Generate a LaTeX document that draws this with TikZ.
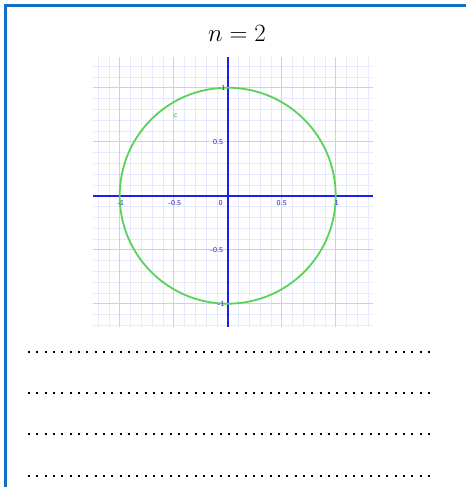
\documentclass[tikz,border=0pt]{standalone}
\usepackage{tikz}
\definecolor{framecol}{RGB}{16,112,196}
\definecolor{axiscol}{RGB}{30,30,240}
\definecolor{majgrid}{RGB}{204,204,255}
\definecolor{mingrid}{RGB}{232,232,255}
\definecolor{circcol}{RGB}{88,210,88}
\definecolor{labgreen}{RGB}{60,180,60}
\tikzset{
  ticklab/.style={font=\sffamily\fontsize{7.5}{8}\selectfont, text=axiscol, inner sep=0pt},
  dotline/.style={line width=2pt, dash pattern=on 2pt off 6.33pt},
}
\begin{document}
\begin{tikzpicture}[x=1pt,y=-1pt]
\useasboundingbox (0,0) rectangle (466,487);
% frame
\draw[framecol, line width=3pt] (5.5,487) -- (5.5,5.5) -- (466,5.5);
% title
\node (title) at (237,33) {\fontsize{23}{28}\selectfont $n = 2$};
% graph
\begin{scope}[shift={(227.7pt,-195.7pt)}, x=108pt, y=108pt]
  \draw[mingrid, line width=0.6pt, step=0.1] (-1.247,-1.216) grid (1.345,1.284);
  \draw[majgrid, line width=0.9pt, step=0.5] (-1.247,-1.216) grid (1.345,1.284);
  \draw[axiscol, line width=1.8pt] (-1.247,0) -- (1.345,0);
  \draw[axiscol, line width=1.8pt] (0,-1.216) -- (0,1.284);
  \draw[circcol, line width=1.8pt] (0,0) circle (1);
  \node[ticklab, anchor=north] (xm1) at (-0.99,-0.045) {-1};
  \node[ticklab, anchor=north] (xm05) at (-0.49,-0.045) {-0.5};
  \node[ticklab, anchor=north] (x0) at (-0.065,-0.045) {0};
  \node[ticklab, anchor=north] (x05) at (0.5,-0.045) {0.5};
  \node[ticklab, anchor=north] (x1) at (1.01,-0.045) {1};
  \node[ticklab, anchor=east] (y1) at (-0.02,1) {1};
  \node[ticklab, anchor=east] (y05) at (-0.04,0.5) {0.5};
  \node[ticklab, anchor=east] (ym05) at (-0.04,-0.5) {-0.5};
  \node[ticklab, anchor=east] (ym1) at (-0.03,-1) {-1};
  \node[ticklab, text=labgreen, font=\sffamily\fontsize{8}{9}\selectfont] (clab) at (-0.48,0.74) {c};
\end{scope}
% answer lines
\foreach \yy/\nm in {351.7/la,393.3/lb,434.3/lc,475.7/ld}{
  \coordinate (\nm s) at (28,\yy);
  \coordinate (\nm e) at (433,\yy);
  \draw[dotline] (\nm s) -- (\nm e);
}
\end{tikzpicture}
\end{document}
